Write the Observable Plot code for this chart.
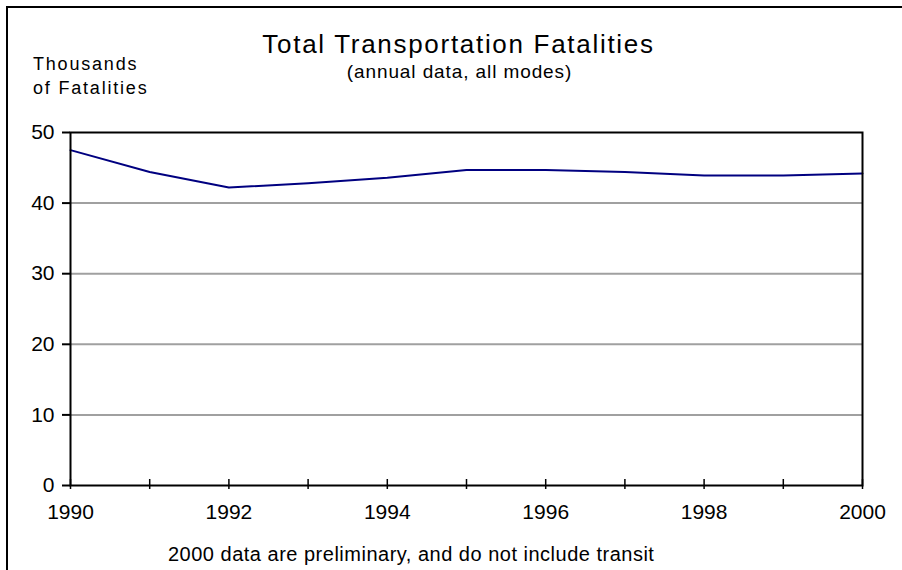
<!DOCTYPE html>
<html><head><meta charset="utf-8">
<script src="https://cdn.jsdelivr.net/npm/d3@7"></script>
<script src="https://cdn.jsdelivr.net/npm/@observablehq/plot@0.6"></script>
<style>
html,body{margin:0;padding:0;background:#fff;}
#wrap{position:relative;width:902px;height:570px;overflow:hidden;font-family:"Liberation Sans",Arial,sans-serif;color:#000;}
#border{position:absolute;left:6px;top:6px;width:1000px;height:1000px;border:2px solid #000;box-sizing:border-box;}
.t{position:absolute;white-space:nowrap;}
#title{left:0;width:917px;text-align:center;top:29px;font-size:26px;letter-spacing:1.7px;}
#subtitle{left:0;width:919px;text-align:center;top:61px;font-size:19px;letter-spacing:0.9px;}
#ylab1{left:33px;top:54px;font-size:18px;letter-spacing:1.8px;}
#ylab2{left:33px;top:78px;font-size:18px;letter-spacing:1.8px;}
#foot{left:168px;top:543px;font-size:20px;letter-spacing:0.5px;}
#chart{position:absolute;left:0;top:0;}
</style></head>
<body><div id="wrap"><div id="border"></div><div id="chart"></div>
<div class="t" id="title">Total Transportation Fatalities</div>
<div class="t" id="subtitle">(annual data, all modes)</div>
<div class="t" id="ylab1">Thousands</div>
<div class="t" id="ylab2">of Fatalities</div>
<div class="t" id="foot">2000 data are preliminary, and do not include transit</div>
</div>
<script>
const years = [1990,1991,1992,1993,1994,1995,1996,1997,1998,1999,2000];
const fatalities = [47.5,44.4,42.2,42.8,43.6,44.7,44.7,44.4,43.9,43.9,44.2];
const yTicks = [0,10,20,30,40,50];
const xLabelTicks = [1990,1992,1994,1996,1998,2000];
const data = years.map((y,i)=>({year:y, value:fatalities[i]}));

const chart = Plot.plot({
  width: 902, height: 570,
  marginLeft: 70, marginRight: 40, marginTop: 132, marginBottom: 85,
  style: {fontFamily: '"Liberation Sans", Arial, sans-serif', fontSize: "21px", color: "#000", background: "transparent"},
  x: {domain: [1990, 2000], label: null},
  y: {domain: [0, 50], label: null},
  marks: [
    Plot.ruleY([10,20,30,40], {stroke: "#a0a0a0", strokeWidth: 2}),
    Plot.line(data, {x: "year", y: "value", stroke: "#000080", strokeWidth: 2}),
    Plot.frame({stroke: "#000", strokeWidth: 2}),
    Plot.axisX({ticks: years, tickSize: 10, dy: -6, tickFormat: () => "", stroke: "#000", strokeWidth: 1.5}),
    Plot.axisX({ticks: xLabelTicks, tickSize: 0, tickPadding: 19, tickFormat: d => String(d), fontSize: 21, style:{letterSpacing:"1px"}}),
    Plot.axisY({ticks: yTicks, tickSize: 8, tickPadding: 8, fontSize: 21, style:{letterSpacing:"1.5px"}, strokeWidth: 2})
  ]
});
document.getElementById("chart").appendChild(chart);
</script>
</body></html>
